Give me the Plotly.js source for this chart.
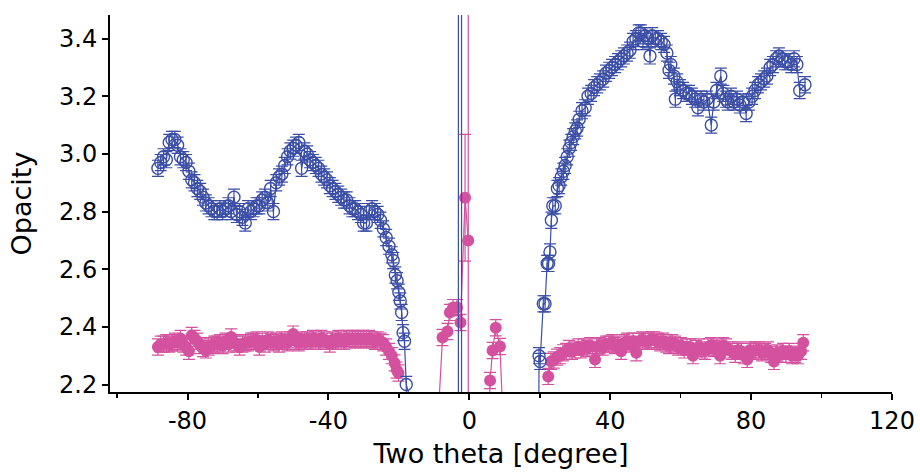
<!DOCTYPE html>
<html>
<head>
<meta charset="utf-8">
<script src="https://cdn.plot.ly/plotly-3.0.1.min.js"></script>
<style>html,body{margin:0;padding:0;background:#fff;}#chart{width:920px;height:472px;}</style>
</head>
<body>
<div id="chart"></div>
<script>
// ---- Axis tick labels ----
const xTickVals = [-80, -40, 0, 40, 80, 120];
const xTickText = ['-80', '-40', '0', '40', '80', '120'];
const yTickVals = [2.2, 2.4, 2.6, 2.8, 3.0, 3.2, 3.4];
const yTickText = ['2.2', '2.4', '2.6', '2.8', '3.0', '3.2', '3.4'];

// ---- Blue series (open circles) ----
const blueX = [
 -88.4,-87.6,-86.8,-86,-85.2,-84.4,-83.6,-82.8,-82,-81.2,-80.4,-79.6,-78.8,-78,-77.2,-76.4,-75.6,-74.8,-74,-73.2,
 -72.4,-71.6,-70.8,-70,-69.2,-68.4,-67.6,-66.8,-66,-65.2,-64.4,-63.6,-62.8,-62,-61.2,-60.4,-59.6,-58.8,-58,-57.2,
 -56.4,-55.6,-54.8,-54,-53.2,-52.4,-51.6,-50.8,-50,-49.2,-48.4,-47.6,-46.8,-46,-45.2,-44.4,-43.6,-42.8,-42,-41.2,
 -40.4,-39.6,-38.8,-38,-37.2,-36.4,-35.6,-34.8,-34,-33.2,-32.4,-31.6,-30.8,-30,-29.2,-28.4,-27.6,-26.8,-26,-25.2,
 -24.4,-23.6,-22.8,-22,-21.6,-21,-20.5,-20,-19.6,-19.2,-18.8,-18.4,-17.9,
 -3.1,-2.2,19.5,
 19.8,20.1,21.0,21.5,22.1,22.5,22.9,23.3,23.7,24.4,25.0,25.5,26.1,26.7,27.2,27.8,28.4,28.9,29.5,30.1,
 30.6,31.2,32.0,32.9,33.7,34.6,35.4,36.3,37.1,38.0,38.8,39.7,40.5,41.4,42.2,43.1,43.9,44.8,45.6,46.5,
 47.3,48.1,48.7,49.3,49.9,50.7,51.3,51.9,52.8,53.6,54.5,55.3,56.1,56.7,57.2,58.1,58.5,59.0,59.8,60.7,
 61.6,62.4,63.2,64.1,64.9,65.8,66.6,67.5,68.7,69.4,70.2,71.4,72.1,72.8,73.4,74.3,75.1,76.0,76.8,77.7,
 78.6,79.4,80.3,81.1,82.0,82.8,83.7,84.5,85.4,86.2,87.1,87.9,88.8,89.6,90.5,91.4,92.2,93.0,93.8,95.3
];
const blueY = [
 2.95,2.97,2.99,2.98,3.04,3.05,3.05,3.03,2.99,2.98,2.97,2.94,2.91,2.90,2.88,2.87,2.85,2.83,2.82,2.81,
 2.80,2.80,2.81,2.80,2.81,2.82,2.80,2.85,2.79,2.80,2.78,2.76,2.81,2.80,2.81,2.82,2.82,2.84,2.85,2.83,
 2.88,2.80,2.90,2.92,2.93,2.96,2.99,3.01,3.02,3.03,3.04,2.95,3.01,3.00,2.98,2.97,2.96,2.95,2.93,2.92,
 2.91,2.89,2.88,2.87,2.86,2.85,2.84,2.84,2.82,2.81,2.81,2.80,2.79,2.76,2.76,2.80,2.81,2.80,2.79,2.77,
 2.74,2.71,2.68,2.65,2.63,2.58,2.56,2.52,2.49,2.45,2.38,2.35,2.20,
 1.5,1.5,1.5,
 2.30,2.28,2.48,2.48,2.62,2.62,2.66,2.77,2.82,2.82,2.88,2.89,2.92,2.94,2.96,2.99,3.02,3.04,3.06,3.08,
 3.09,3.12,3.15,3.16,3.20,3.21,3.23,3.24,3.25,3.26,3.28,3.29,3.30,3.31,3.32,3.33,3.34,3.35,3.36,3.39,
 3.40,3.42,3.42,3.39,3.41,3.40,3.34,3.41,3.40,3.40,3.39,3.38,3.35,3.29,3.31,3.27,3.19,3.25,3.23,3.22,
 3.21,3.21,3.20,3.19,3.16,3.19,3.18,3.19,3.10,3.18,3.22,3.27,3.21,3.19,3.18,3.20,3.18,3.19,3.17,3.18,
 3.14,3.18,3.20,3.22,3.24,3.25,3.26,3.27,3.30,3.31,3.33,3.34,3.33,3.32,3.32,3.31,3.33,3.31,3.22,3.24
];
// off-scale points whose error bars cross the whole frame
const blueBigErrX = [-3.1, -2.2];
const blueBigErr = 3.0;

// ---- Pink series (filled circles) ----
const pinkX = [
 -88.4,-87.6,-86.8,-86,-85.2,-84.4,-83.6,-82.8,-82,-81.2,-80.4,-79.6,-78.8,-78,-77.2,-76.4,-75.6,-74.8,-74,-73.2,
 -72.4,-71.6,-70.8,-70,-69.2,-68.4,-67.6,-66.8,-66,-65.2,-64.4,-63.6,-62.8,-62,-61.2,-60.4,-59.6,-58.8,-58,-57.2,
 -56.4,-55.6,-54.8,-54,-53.2,-52.4,-51.6,-50.8,-50,-49.2,-48.4,-47.6,-46.8,-46,-45.2,-44.4,-43.6,-42.8,-42,-41.2,
 -40.4,-39.6,-38.8,-38,-37.2,-36.4,-35.6,-34.8,-34,-33.2,-32.4,-31.6,-30.8,-30,-29.2,-28.4,-27.6,-26.8,-26,-25.2,
 -24.4,-23.6,-22.8,-22,-21.2,-20.6,-20.1,
 -19,
 -8.6,-7.6,-6.2,-5.5,-4.6,-3.5,-2.5,-1.2,-0.3,
 2,
 5.1,5.9,6.6,7.5,8.7,9.6,
 15,
 22.4,23.2,24.0,24.9,25.8,26.6,27.5,28.3,29.2,30.0,30.9,31.7,32.6,33.4,34.3,35.7,36.2,37.0,37.9,38.8,
 39.6,40.5,41.3,42.2,43.1,44.0,44.8,45.7,46.5,47.4,48.2,49.1,49.9,50.8,51.6,52.5,53.3,54.2,55.0,55.9,
 56.7,57.6,58.4,59.3,60.1,61.0,61.8,62.7,63.5,64.4,65.2,66.1,66.9,67.8,68.6,69.5,70.3,71.2,72.1,72.9,
 73.8,74.6,75.5,76.3,77.2,78.0,78.9,79.7,80.6,81.4,82.3,83.1,84.0,84.8,85.7,86.5,87.4,88.2,89.1,89.9,
 90.8,91.6,92.5,93.3,94.2,94.8
];
const pinkY = [
 2.33,2.34,2.34,2.345,2.34,2.345,2.35,2.345,2.36,2.34,2.33,2.315,2.37,2.36,2.35,2.335,2.325,2.32,2.33,2.335,
 2.34,2.34,2.345,2.335,2.35,2.34,2.365,2.345,2.34,2.33,2.34,2.345,2.345,2.35,2.35,2.355,2.33,2.35,2.34,2.355,
 2.35,2.345,2.35,2.34,2.355,2.35,2.345,2.355,2.375,2.35,2.345,2.355,2.35,2.355,2.35,2.36,2.355,2.35,2.36,2.355,
 2.35,2.34,2.355,2.35,2.36,2.355,2.35,2.36,2.355,2.36,2.355,2.36,2.355,2.36,2.355,2.36,2.355,2.35,2.355,2.35,
 2.345,2.33,2.315,2.30,2.275,2.25,2.24,
 null,
 2.14,2.363,2.384,2.45,2.467,2.467,2.415,2.848,2.70,
 null,
 1.9,2.214,2.318,2.397,2.332,2.07,
 null,
 2.228,2.28,2.285,2.295,2.30,2.31,2.315,2.325,2.315,2.32,2.33,2.32,2.33,2.325,2.335,2.287,2.33,2.335,2.33,2.34,
 2.34,2.345,2.335,2.34,2.315,2.345,2.35,2.34,2.35,2.31,2.35,2.355,2.35,2.35,2.355,2.355,2.35,2.345,2.35,2.34,
 2.335,2.345,2.34,2.33,2.335,2.32,2.33,2.33,2.30,2.325,2.33,2.32,2.315,2.33,2.335,2.325,2.33,2.30,2.335,2.33,
 2.32,2.315,2.305,2.32,2.315,2.30,2.287,2.32,2.315,2.32,2.32,2.31,2.315,2.32,2.305,2.28,2.31,2.305,2.315,2.305,
 2.315,2.30,2.305,2.30,2.315,2.345
];
const pinkBigErrX = {"-1.2": 0.22, "-0.3": 3.0};
const ERR = 0.028;

const BLUE = '#3b4ea7';
const PINK = '#d4519f';

const blueErr = blueX.map((x, i) => blueY[i] === null ? null : (blueBigErrX.includes(x) ? blueBigErr : ERR));
const pinkErr = pinkX.map((x, i) => pinkY[i] === null ? null : (pinkBigErrX[String(x)] !== undefined ? pinkBigErrX[String(x)] : ERR));

const pink = {
  x: pinkX, y: pinkY, type: 'scatter', mode: 'lines+markers',
  line: {color: PINK, width: 1.2},
  marker: {symbol: 'circle', size: 12, color: PINK},
  error_y: {type: 'data', array: pinkErr, visible: true, color: PINK, thickness: 1.2, width: 6},
  cliponaxis: true, hoverinfo: 'x+y'
};
const blue = {
  x: blueX, y: blueY, type: 'scatter', mode: 'lines+markers',
  line: {color: BLUE, width: 1.2},
  marker: {symbol: 'circle-open', size: 12, color: BLUE, line: {width: 1.4, color: BLUE}},
  error_y: {type: 'data', array: blueErr, visible: true, color: BLUE, thickness: 1.2, width: 6},
  cliponaxis: true, hoverinfo: 'x+y'
};

const FONT = 'DejaVu Sans, Verdana, sans-serif';
const layout = {
  width: 920, height: 472,
  margin: {l: 110, r: 28, t: 15, b: 80},
  paper_bgcolor: '#fff', plot_bgcolor: '#fff',
  showlegend: false,
  font: {family: FONT, color: '#000', size: 24},
  xaxis: {
    range: [-102, 120], tickmode: 'array', tickvals: xTickVals, ticktext: xTickText,
    ticks: 'outside', ticklen: 6, tickwidth: 2, tickcolor: '#000',
    minor: {dtick: 20, tick0: 0, ticks: 'outside', ticklen: 4, tickwidth: 1.5, tickcolor: '#000'},
    showline: true, linecolor: '#000', linewidth: 2, showgrid: false, zeroline: false,
    tickfont: {family: FONT, size: 24, color: '#000'},
    title: {text: 'Two theta [degree]', font: {family: FONT, size: 27, color: '#000'}, standoff: 10}
  },
  yaxis: {
    range: [2.174, 3.482], tickmode: 'array', tickvals: yTickVals, ticktext: yTickText,
    ticks: 'outside', ticklen: 6, tickwidth: 2, tickcolor: '#000',
    showline: true, linecolor: '#000', linewidth: 2, showgrid: false, zeroline: false,
    tickfont: {family: FONT, size: 24, color: '#000'},
    title: {text: 'Opacity', font: {family: FONT, size: 27, color: '#000'}, standoff: 20}
  },
  xaxis2: {
    overlaying: 'x', matches: 'x', anchor: 'y', side: 'bottom',
    tickmode: 'array', tickvals: xTickVals,
    ticks: 'inside', ticklen: 6, tickwidth: 2, tickcolor: '#000',
    showticklabels: false, showline: false, showgrid: false, zeroline: false
  },
  yaxis2: {
    overlaying: 'y', matches: 'y', anchor: 'x', side: 'left',
    tickmode: 'array', tickvals: yTickVals,
    ticks: 'inside', ticklen: 6, tickwidth: 2, tickcolor: '#000',
    showticklabels: false, showline: false, showgrid: false, zeroline: false
  }
};

Plotly.newPlot('chart', [pink, blue], layout, {staticPlot: true, displayModeBar: false});
</script>
</body>
</html>
